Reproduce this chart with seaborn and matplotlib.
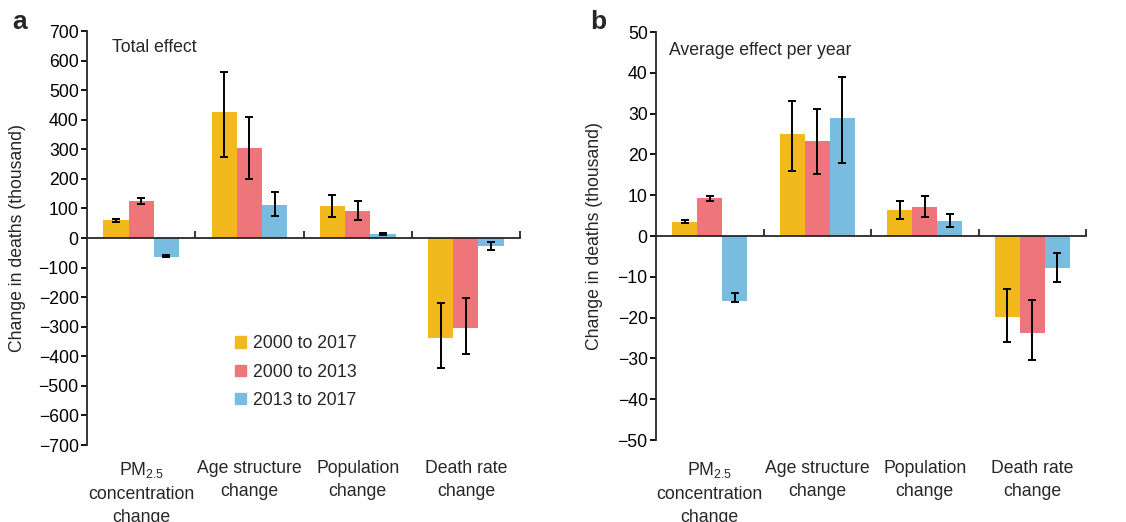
import matplotlib
matplotlib.use("Agg")
import matplotlib.pyplot as plt
import matplotlib.transforms as mtransforms
import seaborn as sns
import pandas as pd
import numpy as np

# categories and series
factors = ["PM$_{2.5}$\nconcentration\nchange", "Age structure\nchange",
           "Population\nchange", "Death rate\nchange"]
periods = ["2000 to 2017", "2000 to 2013", "2013 to 2017"]
colors = ["#F2B91C", "#EE767A", "#78BCDF"]

# panel a: total effect (thousand deaths), value / lower / upper
total_val = {
    "2000 to 2017": [60, 425, 107, -338],
    "2000 to 2013": [125, 306, 92, -303],
    "2013 to 2017": [-63, 113, 14, -26],
}
total_lo = {
    "2000 to 2017": [55, 275, 70, -439],
    "2000 to 2013": [115, 200, 60, -393],
    "2013 to 2017": [-63, 75, 10, -39],
}
total_hi = {
    "2000 to 2017": [65, 560, 147, -219],
    "2000 to 2013": [135, 408, 125, -204],
    "2013 to 2017": [-57, 157, 18, -14],
}

# panel b: average effect per year
year_val = {
    "2000 to 2017": [3.5, 25.0, 6.3, -19.8],
    "2000 to 2013": [9.3, 23.4, 7.1, -23.8],
    "2013 to 2017": [-15.8, 29.0, 3.6, -7.9],
}
year_lo = {
    "2000 to 2017": [3.1, 16.0, 4.3, -26.0],
    "2000 to 2013": [8.7, 15.2, 4.6, -30.3],
    "2013 to 2017": [-16.1, 18.0, 2.3, -11.2],
}
year_hi = {
    "2000 to 2017": [3.9, 33.1, 8.5, -12.9],
    "2000 to 2013": [9.9, 31.1, 9.7, -15.6],
    "2013 to 2017": [-14.0, 39.1, 5.3, -4.1],
}

FS = 12.7


def make_df(val, lo, hi):
    rows = []
    for p in periods:
        for i, f in enumerate(factors):
            rows.append({"factor": f, "period": p, "value": val[p][i],
                         "lo": lo[p][i], "hi": hi[p][i]})
    return pd.DataFrame(rows)


sns.set_style("ticks")
plt.rcParams["font.family"] = ["Liberation Sans", "DejaVu Sans"]
plt.rcParams["mathtext.fontset"] = "custom"
plt.rcParams["mathtext.rm"] = "Liberation Sans"
plt.rcParams["mathtext.default"] = "regular"
plt.rcParams["font.size"] = FS

fig = plt.figure(figsize=(11.26, 5.22), dpi=100)
ax_a = fig.add_axes([0.0773, 0.1475, 0.3845, 0.7931])
ax_b = fig.add_axes([0.5826, 0.1570, 0.3819, 0.7816])


def draw(ax, df, ylim, step, note, note_xy, ylab_xy):
    sns.barplot(data=df, x="factor", y="value", hue="period", order=factors,
                hue_order=periods, palette=colors, saturation=1, width=0.7,
                errorbar=None, legend=False, ax=ax, linewidth=0)
    for cont, p in zip(ax.containers, periods):
        sub = df[df["period"] == p].set_index("factor").loc[factors]
        xs = [b.get_x() + b.get_width() / 2 for b in cont]
        err = np.vstack([sub["value"] - sub["lo"], sub["hi"] - sub["value"]])
        ax.errorbar(xs, sub["value"], yerr=err, fmt="none", ecolor="black",
                    elinewidth=1.4, capsize=3.2, capthick=1.4, zorder=3)
    ax.set_xlim(-0.5, 3.5)
    ax.set_ylim(*ylim)
    ax.set_yticks(np.arange(ylim[0], ylim[1] + step / 2, step))
    ax.set_xticks([0.5, 1.5, 2.5, 3.5])
    ax.set_xticklabels([])
    ax.tick_params(axis="x", direction="in", length=5, width=1.3)
    ax.tick_params(axis="y", direction="out", length=4, width=1.3,
                   labelsize=FS, pad=2, colors="black")
    ax.spines["bottom"].set_position(("data", 0))
    ax.spines["top"].set_visible(False)
    ax.spines["right"].set_visible(False)
    ax.spines["left"].set_linewidth(1.3)
    ax.spines["bottom"].set_linewidth(1.3)
    ax.set_xlabel("")
    ax.set_ylabel("Change in deaths (thousand)", fontsize=FS)
    ax.yaxis.set_label_coords(*ylab_xy)
    ax.text(note_xy[0], note_xy[1], note, transform=ax.transAxes,
            ha="left", va="center", fontsize=FS)
    trans = mtransforms.blended_transform_factory(ax.transData, fig.transFigure)
    for i, f in enumerate(factors):
        ax.text(i, 0.119, f, transform=trans, ha="center", va="top",
                fontsize=FS, linespacing=1.45)


df_a = make_df(total_val, total_lo, total_hi)
df_b = make_df(year_val, year_lo, year_hi)

draw(ax_a, df_a, (-700, 700), 100, "Total effect", (0.058, 0.961), (-0.141, 0.5))
draw(ax_b, df_b, (-50, 50), 10, "Average effect per year", (0.030, 0.956), (-0.123, 0.5))

handles = [plt.Rectangle((0, 0), 1, 1, color=c) for c in colors]
ax_a.legend(handles, periods, loc="center left", bbox_to_anchor=(0.342, 0.176),
            frameon=False, fontsize=FS, handlelength=0.6, handleheight=0.6,
            handletextpad=0.4, labelspacing=0.65, borderpad=0, borderaxespad=0)

fig.text(12 / 1126, 1 - 29 / 522, "a", fontsize=19, fontweight="bold", va="baseline")
fig.text(590 / 1126, 1 - 29 / 522, "b", fontsize=19, fontweight="bold", va="baseline")

fig.savefig("out.png", dpi=100)
